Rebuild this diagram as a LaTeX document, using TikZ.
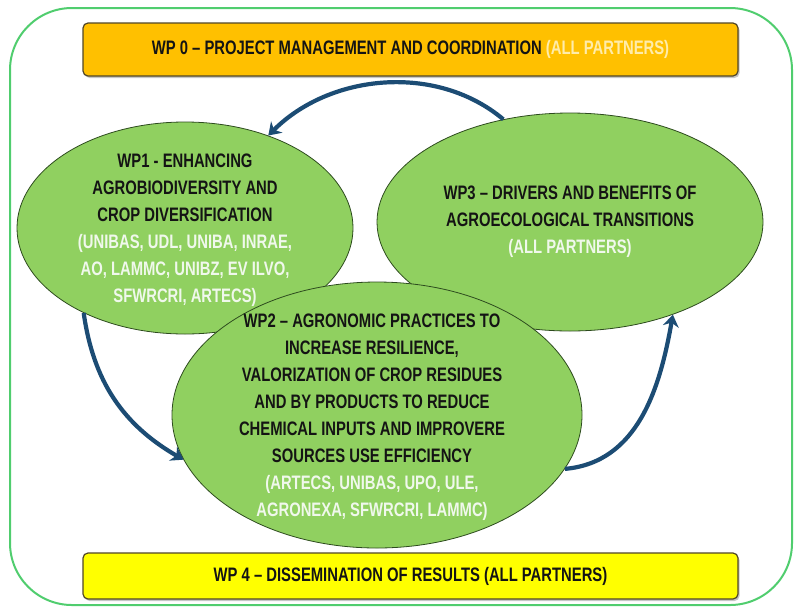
\documentclass[tikz,border=0pt]{standalone}
\usepackage{fontspec}
\setmainfont{Liberation Sans}[FakeStretch=0.76]
\usetikzlibrary{shapes}
\usetikzlibrary{positioning,arrows.meta,shadows}
\usepackage{xcolor}

\definecolor{framegreen}{RGB}{80,205,110}
\definecolor{mgmtgold}{RGB}{255,192,0}
\definecolor{dissyellow}{RGB}{255,255,0}
\definecolor{baredge}{RGB}{80,70,40}
\definecolor{ovalgreen}{RGB}{144,208,96}
\definecolor{ovaledge}{RGB}{45,75,30}
\definecolor{arrowblue}{RGB}{28,76,116}
\definecolor{wptext}{RGB}{20,20,20}
\definecolor{partnerwhite}{RGB}{240,248,236}
\definecolor{barpartner}{RGB}{255,236,170}

\tikzset{
  wpbar/.style={draw=baredge, line width=1.2pt, rounded corners=5pt,
    minimum width=655pt, text=wptext,
    drop shadow={shadow xshift=1.5pt,shadow yshift=-2pt,opacity=0.45}},
  wpoval/.style={ellipse, draw=ovaledge, line width=0.8pt, fill=ovalgreen, inner sep=0pt},
  wplabel/.style={text=wptext, inner sep=0pt},
  cyclearrow/.style={-{Stealth[length=12pt,width=16pt]}, draw=arrowblue, line width=4.2pt},
}

\begin{document}
\begin{tikzpicture}[x=1pt,y=-1pt,node distance=526.5pt,on grid,align=center,
    font=\bfseries\fontsize{19.5}{27}\selectfont]
  \useasboundingbox (0,0) rectangle (794,606);
  % outer frame
  \draw[framegreen, line width=2pt, rounded corners=62pt] (10,8) rectangle (792,605);

  \node[wpbar,fill=mgmtgold,minimum height=53pt] (wp_0) at (410.5,49.5)
    {WP 0 – PROJECT MANAGEMENT AND COORDINATION \textcolor{barpartner}{(ALL PARTNERS)}};
  \node[wpbar,fill=dissyellow,minimum height=46pt] (wp_4) [below=of wp_0]
    {WP 4 – DISSEMINATION OF RESULTS (ALL PARTNERS)};

  % work packages
  \node[wpoval,minimum width=336pt,minimum height=212pt] (wp_1) at (185,228) {};
  \node[wpoval,minimum width=386pt,minimum height=218pt] (wp_3) at (570,222) {};
  \node[wpoval,minimum width=410pt,minimum height=266pt] (wp_2) at (377,415) {};

  \node[wplabel] (wp_1_txt) at (wp_1) [yshift=-2pt]
    {WP1 - ENHANCING\\AGROBIODIVERSITY AND\\CROP DIVERSIFICATION\\
     \textcolor{partnerwhite}{(UNIBAS, UDL, UNIBA, INRAE,}\\
     \textcolor{partnerwhite}{AO, LAMMC, UNIBZ, EV ILVO,}\\
     \textcolor{partnerwhite}{SFWRCRI, ARTECS)}};
  \node[wplabel] (wp_3_txt) at (wp_3)
    {WP3 – DRIVERS AND BENEFITS OF\\AGROECOLOGICAL TRANSITIONS\\
     \textcolor{partnerwhite}{(ALL PARTNERS)}};
  \node[wplabel] (wp_2_txt) at (wp_2) [xshift=-5pt,yshift=-2pt]
    {WP2 – AGRONOMIC PRACTICES TO\\INCREASE RESILIENCE,\\
     VALORIZATION OF CROP RESIDUES\\AND BY PRODUCTS TO REDUCE\\
     CHEMICAL INPUTS AND IMPROVERE\\SOURCES USE EFFICIENCY\\
     \textcolor{partnerwhite}{(ARTECS, UNIBAS, UPO, ULE,}\\
     \textcolor{partnerwhite}{AGRONEXA, SFWRCRI, LAMMC)}};

  \path (wp_3.123) edge[cyclearrow, out=140, in=45, looseness=0.95] (wp_1.48)
        (wp_1.220) edge[cyclearrow, out=-82, in=150] (wp_2.193)
        (wp_2.-16) edge[cyclearrow, out=5, in=-100] (wp_3.-42);
\end{tikzpicture}
\end{document}
